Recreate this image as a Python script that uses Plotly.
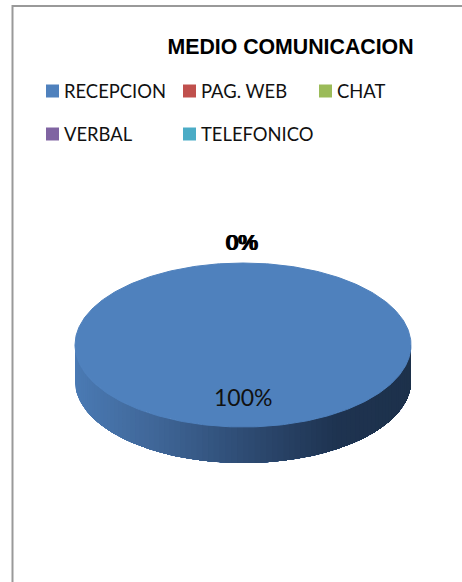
import numpy as np
import plotly.graph_objects as go

# ---- data ----
categories = ["RECEPCION", "PAG. WEB", "CHAT", "VERBAL", "TELEFONICO"]
values = [100, 0, 0, 0, 0]
title_text = "MEDIO COMUNICACION"
colors = ["#4F81BD", "#C0504D", "#9BBB59", "#8064A2", "#4BACC6"]

# ---- layout, in pixels ----
W, H = 462, 582
CX, CY, RX, RY, DEPTH = 243, 345, 168, 82, 36
legend_slots = [(52.5, 91), (189.5, 91), (325.5, 91), (52.5, 134), (189.5, 134)]


def px(a):
    return CX + RX * np.sin(a)


def py(a, drop=0.0):
    return CY - RY * np.cos(a) + drop


def side_shade(x):
    t = np.clip((x - (CX - RX)) / (2 * RX), 0, 1)
    stops_t = [0, 0.25, 0.5, 0.78, 1]
    r = np.interp(t, stops_t, [0x4A, 0x3F, 0x2E, 0x1E, 0x1D])
    g = np.interp(t, stops_t, [0x7A, 0x65, 0x4C, 0x33, 0x31])
    b = np.interp(t, stops_t, [0xB4, 0x96, 0x74, 0x50, 0x4B])
    return f"rgb({r:.0f},{g:.0f},{b:.0f})"


fig = go.Figure()

total = sum(values)
shares = np.array(values) / total * 2 * np.pi
starts = np.concatenate([[0], np.cumsum(shares)[:-1]])

# front wall of each slice: painted left to right, each layer reaching the right end
for start, share in zip(starts, shares):
    lo, hi = max(start, np.pi / 2), min(start + share, 3 * np.pi / 2)
    if share == 0 or hi <= lo:
        continue
    edges = np.linspace(lo, hi, 91)
    for i in range(len(edges) - 1, 0, -1):
        arc = np.linspace(lo, edges[i], max(i + 1, 2))
        xs = np.concatenate([px(arc), px(arc[::-1])])
        ys = np.concatenate([py(arc), py(arc[::-1], DEPTH)])
        shade = side_shade(px((edges[i] + edges[i - 1]) / 2))
        fig.add_trace(go.Scatter(x=xs, y=ys, mode="lines", fill="toself", fillcolor=shade,
                                 line=dict(width=0), hoverinfo="skip", showlegend=False))

# top face of each slice
for name, start, share, col in zip(categories, starts, shares, colors):
    if share == 0:
        continue
    arc = np.linspace(start, start + share, 361)
    xs, ys = px(arc), py(arc)
    if share < 2 * np.pi:
        xs, ys = np.append(xs, CX), np.append(ys, CY)
    fig.add_trace(go.Scatter(x=xs, y=ys, mode="lines", fill="toself", fillcolor=col,
                             line=dict(color=col, width=1), name=name, hoverinfo="name", showlegend=False))

# legend keys with their labels beside them
for name, col, (lx, ly) in zip(categories, colors, legend_slots):
    fig.add_trace(go.Scatter(x=[lx], y=[ly], mode="markers", name=name, showlegend=False, hoverinfo="name",
                             marker=dict(symbol="square", size=13, color=col, line=dict(width=0))))
    fig.add_annotation(x=lx + 9.5, y=ly, text=name, showarrow=False, xanchor="left", yanchor="middle",
                       font=dict(family="Lato", size=18.4, color="#111111"))

# percentage labels (the zero slices stack on one another at the top of the pie)
for i, (v, start, share) in enumerate(zip(values, starts, shares)):
    mid = start + share / 2
    if v == 0:
        fig.add_annotation(x=CX - 1 + 0.6 * (i - 2.5), y=py(mid) - 21, text=f"{v}%", showarrow=False,
                           font=dict(family="Liberation Sans", size=22, color="#000000"))
    else:
        fig.add_annotation(x=px(mid), y=py(mid) - 30, text=f"{v}%", showarrow=False,
                           font=dict(family="Lato", size=23, color="#111111"))

fig.update_layout(
    width=W, height=H, margin=dict(l=0, r=0, t=0, b=0), showlegend=False,
    paper_bgcolor="white", plot_bgcolor="white",
    title=dict(text=f"<b>{title_text}</b>", x=290.5 / W, xanchor="center", y=1 - 47 / H, yanchor="middle",
               font=dict(family="Liberation Sans", size=21.3, color="#000000")),
    xaxis=dict(range=[0, W], visible=False, fixedrange=True),
    yaxis=dict(range=[H, 0], visible=False, fixedrange=True),
    shapes=[
        dict(type="line", xref="paper", yref="paper", x0=12.5 / W, x1=12.5 / W, y0=0, y1=1 - 5 / H,
             line=dict(color="#999999", width=2)),
        dict(type="line", xref="paper", yref="paper", x0=12 / W, x1=1, y0=1 - 6 / H, y1=1 - 6 / H,
             line=dict(color="#999999", width=2)),
    ],
)
fig.write_html("out.html", config={"displayModeBar": False},
               post_script="document.body.style.margin='0';")
